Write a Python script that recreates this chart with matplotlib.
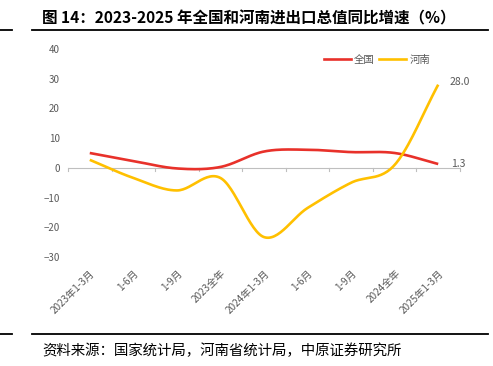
import numpy as np
import matplotlib.pyplot as plt
from matplotlib.lines import Line2D

plt.rcParams['font.family'] = ['Noto Sans CJK SC', 'DejaVu Sans']

categories = ["2023年1-3月", "1-6月", "1-9月", "2023全年", "2024年1-3月",
              "1-6月", "1-9月", "2024全年", "2025年1-3月"]
national = [5.0, 2.3, -0.2, 0.3, 5.5, 6.1, 5.3, 5.0, 1.3]
henan = [2.7, -3.4, -7.6, -3.4, -23.3, -13.5, -5.0, 1.0, 28.0]
yticks = [-30, -20, -10, 0, 10, 20, 30, 40]

RED = "#E8312A"
YELLOW = "#FFC000"
GRAY = "#595959"


def smooth(y, n=30):
    """Catmull-Rom curve through the points (like Excel smoothed lines)"""
    y = np.asarray(y, float)
    x = np.arange(len(y), dtype=float)
    p = np.column_stack([x, y])
    p = np.vstack([2 * p[0] - p[1], p, 2 * p[-1] - p[-2]])
    out = []
    for i in range(1, len(p) - 2):
        p0, p1, p2, p3 = p[i - 1], p[i], p[i + 1], p[i + 2]
        t = np.linspace(0, 1, n)[:, None]
        seg = 0.5 * ((2 * p1) + (-p0 + p2) * t + (2 * p0 - 5 * p1 + 4 * p2 - p3) * t ** 2
                     + (-p0 + 3 * p1 - 3 * p2 + p3) * t ** 3)
        out.append(seg)
    s = np.vstack(out)
    return s[:, 0], s[:, 1]


fig = plt.figure(figsize=(4.93, 3.66), dpi=100)
ax = fig.add_axes([68 / 493, 1 - 257 / 366, (460 - 68) / 493, (257 - 49) / 366])

xs, ys = smooth(national)
ax.plot(xs, ys, color=RED, lw=1.9, solid_capstyle="butt")
xs, ys = smooth(henan)
ax.plot(xs, ys, color=YELLOW, lw=1.9, solid_capstyle="butt")

ax.set_xlim(-0.5, len(categories) - 0.5)
ax.set_ylim(-30, 40)
ax.set_yticks(yticks)
ax.set_yticklabels([str(v).replace("-", "\u2212") for v in yticks], color=GRAY, fontsize=7)
ax.set_xticks(range(len(categories)))
ax.set_xticklabels(categories, rotation=45, ha="right", rotation_mode="anchor",
                   color=GRAY, fontsize=7.2)
ax.tick_params(axis="y", length=0, pad=6)
ax.tick_params(axis="x", length=0, pad=8)
for s in ax.spines.values():
    s.set_visible(False)
ax.axhline(0, color="#BFBFBF", lw=0.8, zorder=0)
for b in np.arange(-0.5, len(categories), 1.0):
    ax.plot([b, b], [0, -0.9], color="#BFBFBF", lw=0.8, zorder=0, clip_on=False)

ax.text(8.25, henan[-1] + 0.8, f"{henan[-1]:.1f}", color=GRAY, fontsize=7.5, va="center")
ax.text(8.3, national[-1], f"{national[-1]:.1f}", color=GRAY, fontsize=7.5, va="center")

handles = [Line2D([], [], color=RED, lw=1.9), Line2D([], [], color=YELLOW, lw=1.9)]
fig.legend(handles, ["全国", "河南"], loc="center", bbox_to_anchor=(377 / 493, 1 - 60 / 366),
           ncol=2, frameon=False, fontsize=7.5, handlelength=2.6, handletextpad=0.3,
           columnspacing=0.4, labelcolor=GRAY)

fig.text(42 / 493, 1 - 18 / 366, "图 14：2023-2025 年全国和河南进出口总值同比增速（%）",
         fontsize=11.2, fontweight="bold", va="center", ha="left")
fig.text(42 / 493, 1 - 351 / 366, "资料来源：国家统计局，河南省统计局，中原证券研究所",
         fontsize=10.4, va="center", ha="left")
for yy in (30, 334):
    fig.add_artist(Line2D([32 / 493, 488 / 493], [1 - yy / 366] * 2, color="black", lw=1.3))
    fig.add_artist(Line2D([0, 12 / 493], [1 - yy / 366] * 2, color="black", lw=1.3))

fig.savefig("out.png", dpi=100)
